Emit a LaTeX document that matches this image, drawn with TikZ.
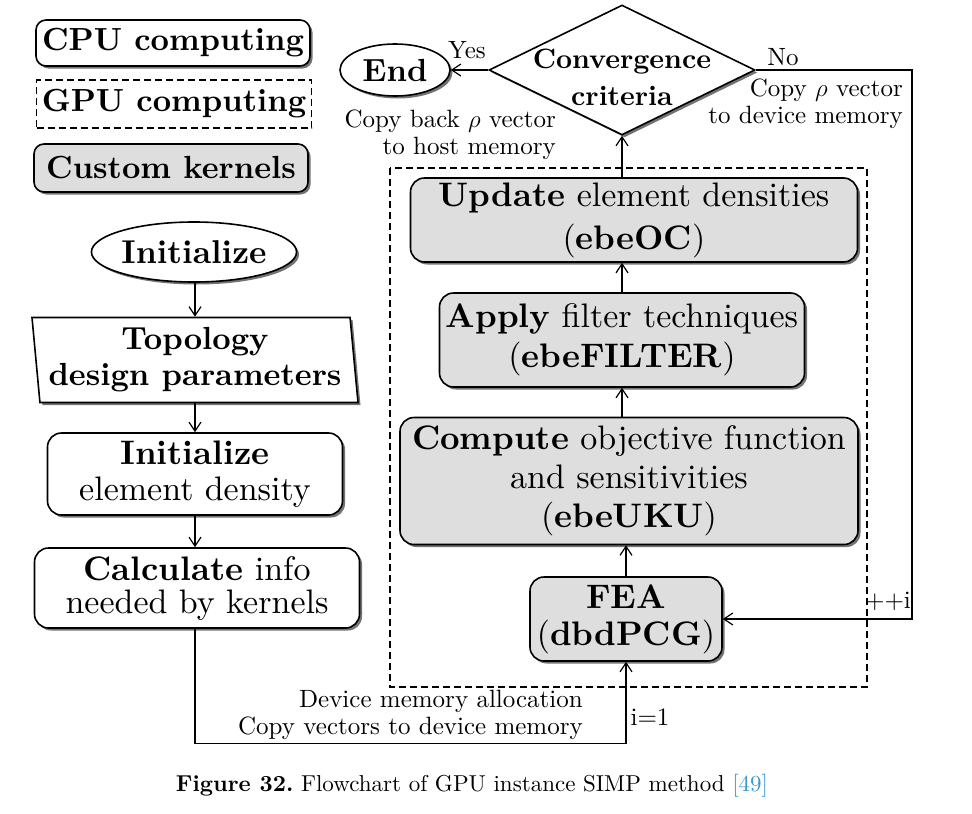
\documentclass[tikz,border=0pt]{standalone}
\usepackage{amsmath}
\usepackage{xcolor}
\usepackage{fontspec}
\setmainfont{lmroman10}[Extension=.otf,UprightFont=*-regular,BoldFont=*-bold,ItalicFont=*-italic,BoldItalicFont=*-bolditalic]
\usetikzlibrary{shapes.geometric,shadows,arrows.meta}
\definecolor{kerngray}{RGB}{222,222,222}
\definecolor{citeblue}{RGB}{60,150,210}
\tikzset{
  boxshadow/.style={drop shadow={shadow xshift=2.5pt,shadow yshift=-2.5pt,fill=black!55,opacity=1}},
  plainbox/.style={draw,line width=1.6pt,fill=white,boxshadow,align=center,inner sep=0pt,font=\fontsize{34}{38}\selectfont},
  cpubox/.style={plainbox,rounded corners=14pt},
  kernbox/.style={cpubox,fill=kerngray},
  gpubox/.style={draw,line width=1.6pt,dash pattern=on 7pt off 4pt},
  oval/.style={plainbox,ellipse},
  arr/.style={line width=1.2pt,-{Straight Barb[length=9pt,width=12pt,line width=1.2pt]}},
  lbl/.style={inner sep=0pt,font=\fontsize{25}{27}\selectfont}
}
\begin{document}
\begin{tikzpicture}[x=1pt,y=-1pt]
\useasboundingbox (0,0) rectangle (972,814);

\node[cpubox,rounded corners=10pt,minimum width=274pt,minimum height=46pt,font=\fontsize{32}{36}\selectfont] (cpu) at (173,43) {\textbf{CPU computing}};
\node[gpubox,inner sep=0pt,minimum width=275pt,minimum height=48pt,font=\fontsize{32}{36}\selectfont] (gpu) at (174,104) {\textbf{GPU computing}};
\node[kernbox,rounded corners=10pt,minimum width=274pt,minimum height=48pt,font=\fontsize{32}{36}\selectfont] (kern) at (171,168) {\textbf{Custom kernels}};

\node[oval,minimum width=188pt,minimum height=60pt,font=\fontsize{33}{36}\selectfont] (init) at (194,252) {\textbf{Initialize}};
\node[plainbox,trapezium,trapezium left angle=97,trapezium right angle=83,trapezium stretches body,minimum width=326pt,minimum height=85pt,font=\fontsize{32}{36}\selectfont] (topo) at (195,360) {\textbf{Topology}\\\textbf{design parameters}};
\node[cpubox,minimum width=295pt,minimum height=82pt,font=\fontsize{34}{36}\selectfont] (dens) at (195,474) {\textbf{Initialize}\\element density};
\node[cpubox,minimum width=325pt,minimum height=80pt,font=\fontsize{34}{33}\selectfont] (calc) at (197,588) {\textbf{Calculate} info\\needed by kernels};

\draw[gpubox] (390,168) rectangle (867,687);
\node[kernbox,minimum width=447pt,minimum height=84pt,font=\fontsize{34}{43}\selectfont] (oc) at (634,220) {\textbf{Update} element densities\\(\textbf{ebeOC})};
\node[kernbox,minimum width=365pt,minimum height=94pt,font=\fontsize{34}{40}\selectfont] (filt) at (622,340) {\textbf{Apply} filter techniques\\(\textbf{ebeFILTER})};
\node[kernbox,minimum width=458pt,minimum height=127pt,font=\fontsize{34}{39}\selectfont] (uku) at (629,481) {\textbf{Compute} objective function\\and sensitivities\\(\textbf{ebeUKU})};
\node[kernbox,minimum width=192pt,minimum height=84pt,font=\fontsize{34}{37}\selectfont] (fea) at (626,619) {\textbf{FEA}\\(\textbf{dbdPCG})};

\node[plainbox,diamond,minimum width=266pt,minimum height=130pt,label={[font=\fontsize{28}{37}\selectfont,align=center,yshift=-7pt]center:\textbf{Convergence}\\\textbf{criteria}}] (conv) at (622,70) {};
\node[oval,minimum width=110pt,minimum height=52pt,font=\fontsize{32}{36}\selectfont] (fin) at (395,70) {\textbf{End}};

\draw[arr] (init.south -| topo.north) -- (topo.north);
\draw[arr] (topo.south) -- (dens.north -| topo.south);
\draw[arr] (dens.south -| topo.south) -- (calc.north -| topo.south);
\draw[arr] (calc.south -| topo.south) -- ++(0,115) -| (fea.south);
\draw[arr] (fea.north) -- (fea.north |- uku.south);
\draw[arr] (conv.south |- uku.north) -- (conv.south |- filt.south);
\draw[arr] (conv.south |- filt.north) -- (conv.south |- oc.south);
\draw[arr] (conv.south |- oc.north) -- (conv.south);
\draw[arr] (conv.west) -- (fin.east);
\draw[arr] (conv.east) -- (912,70) |- (fea.east);

\node[lbl] (yes) at (467,50) {Yes};
\node[lbl] (no) at (783,57) {No};
\node[lbl,align=right,anchor=east] (todev) at (903,104) {Copy $\rho$ vector\\to device memory};
\node[lbl,align=right,anchor=east] (tohost) at (556,135) {Copy back $\rho$ vector\\to host memory};
\node[lbl] (inc) at (888,601) {++i};
\node[lbl] (one) at (650,717) {i=1};
\node[lbl,align=right,anchor=east] (alloc) at (583,715) {Device memory allocation\\Copy vectors to device memory};

\node[inner sep=0pt,font=\fontsize{23}{25}\selectfont] (cap) at (472,786) {\textbf{Figure 32.}\ Flowchart of GPU instance SIMP method \textcolor{citeblue}{[49]}};
\end{tikzpicture}
\end{document}
